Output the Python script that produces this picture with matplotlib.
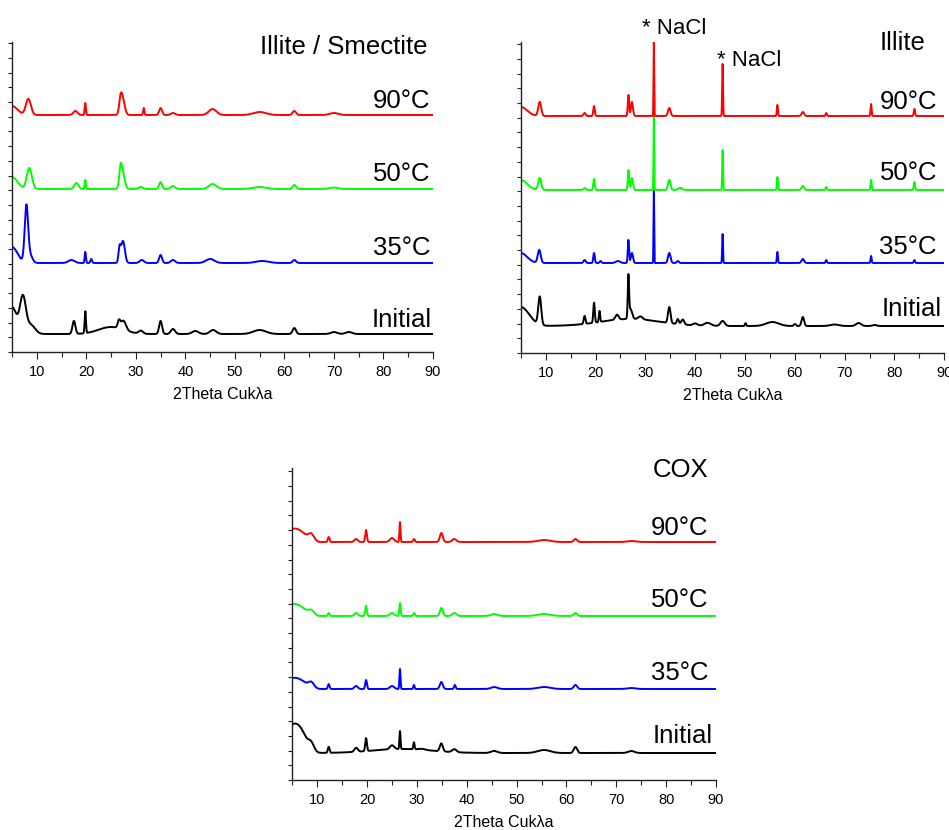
import numpy as np
import matplotlib
matplotlib.use('Agg')
import matplotlib.pyplot as plt
from matplotlib.ticker import MultipleLocator

plt.rcParams['font.family'] = ['Liberation Sans', 'DejaVu Sans']

# peaks: (2theta, height above baseline, fwhm)
# heights are in pixel-ish units of the original plot
is_initial = [(5.0, 27, 2.2), (7.2, 36, 1.4), (8.8, 9, 2.0), (17.5, 13, 0.7), (19.8, 22, 0.3),
              (25.0, 7, 6.0), (26.6, 7, 0.6), (27.5, 9, 1.2), (31.0, 3, 1.0), (35.0, 13, 0.7),
              (37.5, 5, 1.0), (42.0, 3, 1.5), (45.6, 4, 1.5), (55.0, 4, 3.0), (62.0, 6, 0.8),
              (70.0, 2, 1.5), (73.0, 2, 1.5)]
is_35 = [(5.0, 16, 2.6), (7.9, 55, 0.8), (8.6, 8, 1.2), (17.0, 3, 1.5), (19.8, 11, 0.3),
         (21.0, 4, 0.4), (26.7, 14, 0.5), (27.4, 22, 0.9), (31.2, 3, 1.0), (35.0, 8, 0.7),
         (37.5, 3, 1.0), (45.0, 4, 2.0), (55.5, 2, 3.0), (62.0, 3, 0.8)]
is_50 = [(5.0, 12, 2.6), (8.5, 21, 1.2), (18.0, 6, 1.0), (19.8, 9, 0.3), (26.9, 14, 0.6),
         (27.3, 17, 1.0), (31.0, 2, 1.0), (35.0, 7, 0.7), (37.5, 3, 1.0), (45.5, 5, 1.8),
         (55.0, 2, 3.0), (62.0, 4, 0.8), (70.0, 1.5, 2.0)]
is_90 = [(5.0, 9, 2.6), (8.3, 16, 1.2), (17.8, 4, 1.0), (19.8, 12, 0.3), (26.9, 10, 0.6),
         (27.3, 17, 1.0), (31.6, 7, 0.3), (35.0, 7, 0.7), (37.5, 2, 1.0), (45.5, 6, 1.8),
         (55.0, 3, 3.0), (62.0, 4, 0.8), (70.0, 2, 2.0)]

il_initial = [(5.0, 19, 4.0), (8.8, 28, 0.7), (17.8, 8, 0.4), (19.7, 20, 0.35), (20.8, 11, 0.3),
              (24.3, 5, 0.8), (26.6, 40, 0.3), (27.0, 10, 0.8), (29.0, 3, 1.0), (27.0, 7, 14.0),
              (34.8, 16, 0.6), (36.5, 5, 0.5), (37.5, 5, 0.7), (40.0, 2, 1.0), (42.5, 3, 1.5),
              (45.5, 5, 1.0), (50.1, 3, 0.3), (55.5, 4, 3.0), (60.0, 2, 0.5), (61.6, 9, 0.6),
              (68.0, 1.5, 2.0), (72.8, 3, 1.2), (76.0, 1, 1.0)]
il_35 = [(5.0, 10, 3.0), (8.7, 13, 0.7), (17.8, 3, 0.5), (19.7, 10, 0.35), (21.0, 2, 0.4),
         (24.5, 2, 1.0), (26.6, 23, 0.3), (27.3, 10, 0.5), (31.7, 75, 0.15), (34.8, 10, 0.6),
         (36.5, 2, 0.5), (45.5, 29, 0.2), (56.5, 11, 0.25), (61.6, 4, 0.6), (66.3, 3, 0.3),
         (75.3, 7, 0.25), (84.0, 3, 0.3)]
il_50 = [(5.0, 10, 3.0), (8.8, 12, 0.7), (17.8, 2, 0.5), (19.7, 11, 0.35), (26.6, 20, 0.3),
         (27.3, 12, 0.5), (31.7, 77, 0.15), (34.8, 10, 0.6), (37.0, 2, 1.0), (45.5, 40, 0.2),
         (56.5, 13, 0.25), (61.6, 4, 0.6), (66.3, 3, 0.3), (75.3, 10, 0.25), (84.0, 8, 0.3)]
il_90 = [(5.0, 9, 3.0), (8.8, 14, 0.7), (17.8, 3, 0.5), (19.7, 10, 0.35), (26.6, 21, 0.3),
         (27.3, 14, 0.5), (31.7, 74, 0.15), (34.8, 8, 0.6), (45.5, 52, 0.2), (56.5, 11, 0.25),
         (61.6, 4, 0.6), (66.3, 3, 0.3), (75.3, 12, 0.25), (84.0, 7, 0.3)]

cox_initial = [(5.0, 26, 3.2), (7.0, 14, 2.5), (8.8, 8, 1.4), (12.3, 6, 0.4), (17.8, 4, 0.8),
               (19.8, 13, 0.4), (25.0, 4, 1.0), (26.6, 18, 0.25), (27.0, 4, 14.0), (29.4, 7, 0.3),
               (31.0, 1, 1.5), (34.9, 8, 0.7), (37.5, 3, 1.0), (45.5, 2, 1.5), (55.5, 3, 3.0),
               (61.8, 6, 0.8), (73.0, 2, 1.5)]
cox_35 = [(5.0, 10, 3.2), (7.0, 5, 2.5), (8.8, 6, 1.4), (12.3, 5, 0.4), (17.8, 3, 0.8),
          (19.8, 9, 0.4), (25.0, 3, 1.0), (26.6, 20, 0.25), (29.4, 4, 0.3), (34.9, 7, 0.7),
          (37.6, 4, 0.4), (45.5, 2, 1.5), (55.5, 2, 3.0), (61.8, 4, 0.8), (73.0, 1, 2.0)]
cox_50 = [(5.0, 11, 3.2), (7.0, 5, 2.5), (8.8, 5, 1.4), (12.3, 3, 0.4), (17.8, 3, 0.8),
          (19.8, 10, 0.4), (25.0, 3, 1.0), (26.6, 13, 0.3), (29.4, 3, 0.4), (34.9, 8, 0.7),
          (37.5, 3, 1.0), (45.5, 2, 1.5), (55.5, 2, 3.0), (61.8, 3, 0.8)]
cox_90 = [(5.0, 12, 3.2), (7.0, 6, 2.5), (8.8, 7, 1.4), (12.3, 5, 0.4), (17.8, 3, 0.8),
          (19.8, 12, 0.4), (25.0, 4, 1.0), (26.6, 20, 0.25), (29.4, 3, 0.4), (34.9, 9, 0.7),
          (37.5, 3, 1.0), (55.5, 2, 3.0), (61.8, 3, 0.8), (73.0, 1, 2.0)]

labels = ['Initial', '35°C', '50°C', '90°C']
colors = ['black', '#0000ff', '#00ff00', '#ff0000']
is_offsets = [18, 89, 163, 237]
il_offsets = [27, 90, 163, 237]
cox_offsets = [27, 91, 164, 238]

W, H = 949, 830
two_theta = np.arange(5, 90.001, 0.02)


def pattern(peaks):
    y = np.zeros_like(two_theta)
    for pos, h, w in peaks:
        y += h * np.exp(-4 * np.log(2) * ((two_theta - pos) / w) ** 2)
    return y


def fx(px):
    return px / W


def fy(py):
    return 1 - py / H


def make_ax(left, right, top, bottom):
    ax = fig.add_axes([fx(left), fy(bottom), fx(right - left), (bottom - top) / H])
    ax.set_xlim(5, 90)
    ax.set_ylim(0, bottom - top)
    for s in ['top', 'right']:
        ax.spines[s].set_visible(False)
    for s in ['left', 'bottom']:
        ax.spines[s].set_color('#222222')
        ax.spines[s].set_linewidth(1.0)
    ax.xaxis.set_major_locator(MultipleLocator(10))
    ax.xaxis.set_minor_locator(MultipleLocator(5))
    ax.yaxis.set_major_locator(MultipleLocator(14.7))
    ax.tick_params(axis='x', which='major', length=5, width=0.8, labelsize=10.5, pad=4,
                   color='#222222')
    ax.tick_params(axis='x', which='minor', length=3.5, width=0.8, color='#222222')
    ax.tick_params(axis='y', length=3, width=0.8, labelleft=False, color='#222222')
    ax.set_xlabel('2Theta Cukλa', fontsize=11.5, labelpad=6)
    return ax


fig = plt.figure(figsize=(W / 100, H / 100), dpi=100)

ax1 = make_ax(12, 433, 42, 352)
for peaks, off, c in zip([is_initial, is_35, is_50, is_90], is_offsets, colors):
    ax1.plot(two_theta, off + pattern(peaks), color=c, lw=1.4)

ax2 = make_ax(520.8, 944.3, 42, 353)
for peaks, off, c in zip([il_initial, il_35, il_50, il_90], il_offsets, colors):
    ax2.plot(two_theta, off + pattern(peaks), color=c, lw=1.4)

ax3 = make_ax(292.3, 716, 468, 780)
for peaks, off, c in zip([cox_initial, cox_35, cox_50, cox_90], cox_offsets, colors):
    ax3.plot(two_theta, off + pattern(peaks), color=c, lw=1.4)

big = 18.5
# Illite / Smectite labels
fig.text(fx(427), fy(54), 'Illite / Smectite', fontsize=big, ha='right', va='baseline')
for lab, x, y in zip(labels, [432, 430, 430, 430], [327, 255, 181, 108]):
    fig.text(fx(x), fy(y), lab, fontsize=big, ha='right', va='baseline')

# Illite labels
fig.text(fx(926), fy(50), 'Illite', fontsize=big, ha='right', va='baseline')
for lab, x, y in zip(labels, [942, 937, 937, 937], [316, 254, 180, 109]):
    fig.text(fx(x), fy(y), lab, fontsize=big, ha='right', va='baseline')
fig.text(fx(642), fy(34), '* NaCl', fontsize=16, ha='left', va='baseline')
fig.text(fx(717), fy(66), '* NaCl', fontsize=16, ha='left', va='baseline')

# COX labels
fig.text(fx(708), fy(477), 'COX', fontsize=big, ha='right', va='baseline')
for lab, x, y in zip(labels, [713, 708, 708, 708], [743, 680, 607, 535]):
    fig.text(fx(x), fy(y), lab, fontsize=big, ha='right', va='baseline')

fig.savefig('out.png', dpi=100)
